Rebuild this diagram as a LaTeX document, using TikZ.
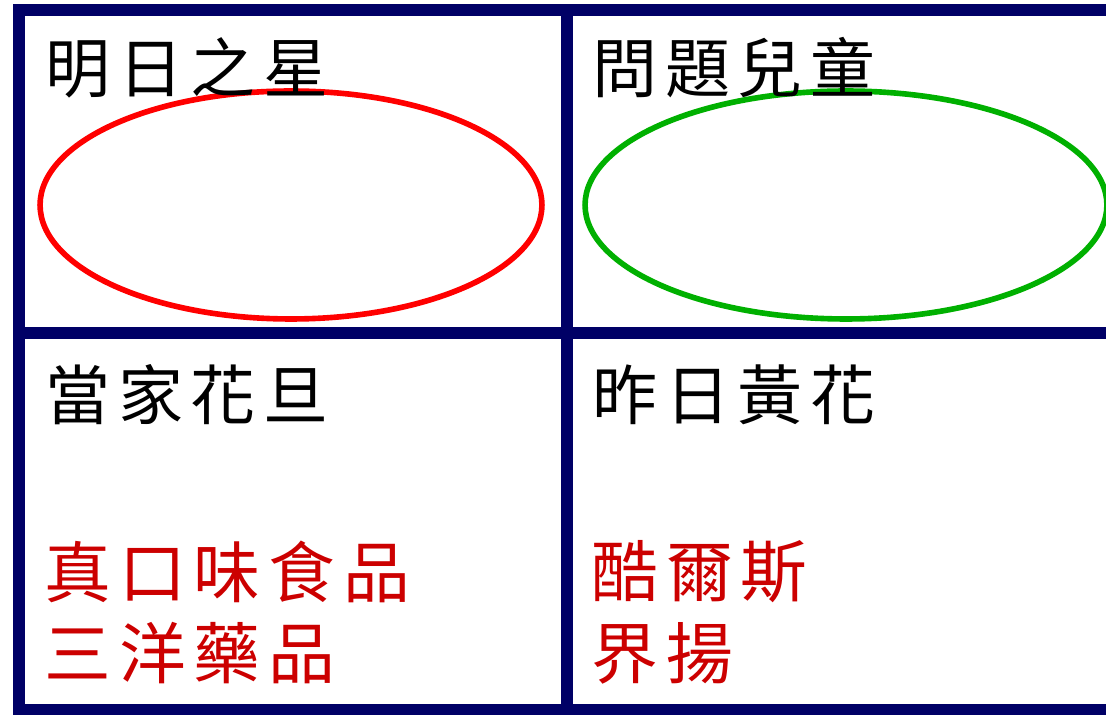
\documentclass[tikz,border=0pt]{standalone}
\usepackage{fontspec}
\newfontfamily\cjk[LetterSpace=12]{Noto Sans CJK TC}
\usepackage{tikz}
\usetikzlibrary{positioning}
\definecolor{navy}{RGB}{0,0,102}
\definecolor{itemred}{RGB}{204,0,0}
\definecolor{ovalgreen}{RGB}{0,176,0}
\tikzset{frame/.style={draw=navy, line width=6.8pt}}
\tikzset{title/.style={anchor=west, inner sep=0pt, font=\cjk\fontsize{37}{44}\selectfont}}
\tikzset{item/.style={anchor=west, inner sep=0pt, text=itemred, font=\cjk\fontsize{38}{46}\selectfont}}
\tikzset{oval/.style={line width=3.2pt}}

\begin{document}
\begin{tikzpicture}[x=0.02cm, y=-0.02cm]
			\useasboundingbox (0,0) rectangle (1106,715);
			\clip (0,0) rectangle (1106,715);
			% grid
			\draw[frame] (19,10) rectangle (1115,710);
			\draw[frame] (567,10) -- (567,710);
			\draw[frame] (19,333) -- (1115,333);
%
			\draw[oval, red] (291,205) ellipse [x radius=5.02cm, y radius=2.28cm];
			\draw[oval, ovalgreen] (846,205) ellipse [x radius=5.22cm, y radius=2.28cm];
%
			\node[title] (star) at (45,68) {明日之星};
			\node[title] (problem) at (592,68) {問題兒童};
			\node[title] (cash) at (45,395) {當家花旦};
			\node[title] (dog) at (592,395) {昨日黃花};
			% company names
			\node[item] (zhen) at (44,572) {真口味食品};
			\node[item, below=0.38cm of zhen.south west, anchor=north west] (sanyang) {三洋藥品};
			\node[item] (kuer) at (591,572) {酷爾斯};
			\node[item, below=0.38cm of kuer.south west, anchor=north west] (jieyang) {界揚};
		\end{tikzpicture}
\end{document}
